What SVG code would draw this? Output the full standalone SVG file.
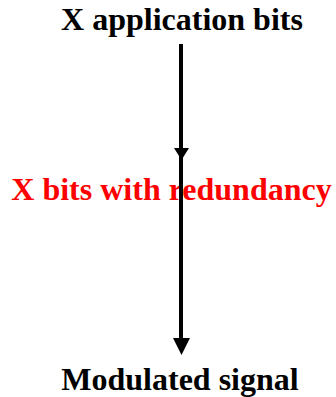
<svg xmlns="http://www.w3.org/2000/svg" width="336" height="397" viewBox="0 0 336 397">
<style>
text{font-family:"Liberation Serif","Times New Roman",serif;font-weight:bold;text-anchor:middle}
.b{fill:#000;font-size:32px}
.r{fill:#ff0000;font-size:32px}
.ln{stroke:#000;stroke-width:4;fill:none}
</style>
<g id="n1"><text class="b" x="182" y="30">X application bits</text></g>
<g id="n2"><text class="r" x="171.5" y="200">X bits with redundancy</text></g>
<g id="n3"><text class="b" x="180" y="390">Modulated signal</text></g>
<g id="connectors">
<path class="ln" d="M181,44 V150"/>
<path d="M174,148 L189,148 L181.5,160 Z" fill="#000"/>
<path class="ln" d="M181,150 V340"/>
<path d="M173,338 L190,338 L181.5,355 Z" fill="#000"/>
</g>
</svg>
